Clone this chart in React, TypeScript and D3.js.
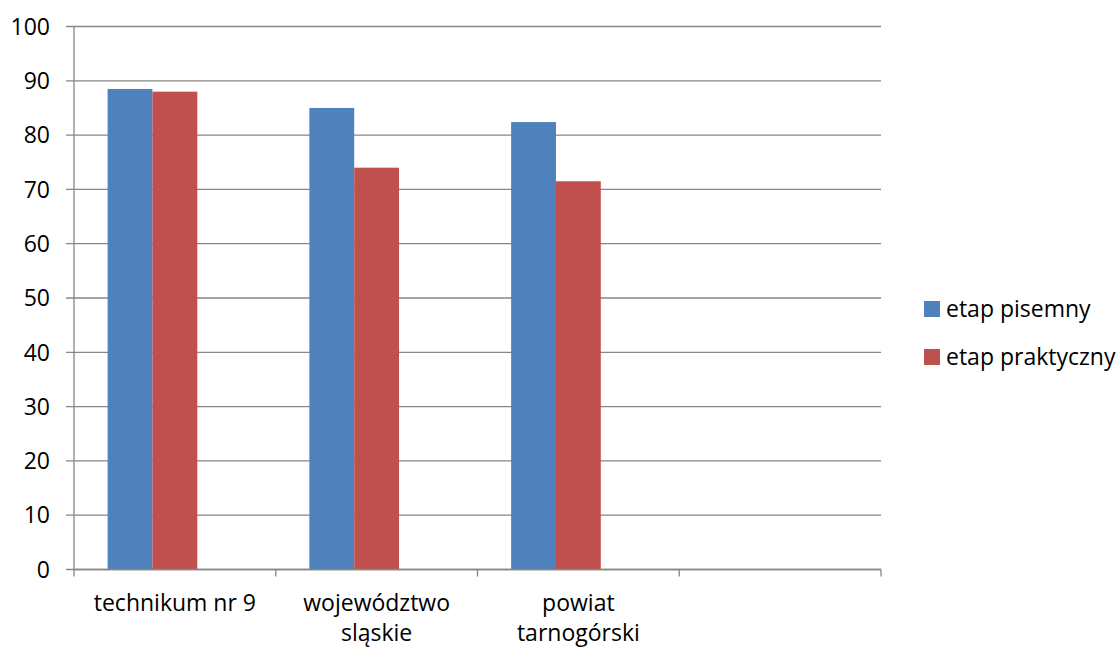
import React from "react";
import * as d3 from "d3";

const categories = ["technikum nr 9", "województwo sląskie", "powiat tarnogórski", ""];
const categoryLines = [["technikum nr 9"], ["województwo", "sląskie"], ["powiat", "tarnogórski"], []];
const seriesNames = ["etap pisemny", "etap praktyczny", ""];
const seriesColors = ["#4F81BD", "#C0504D", "none"];
const pisemny = [88.5, 85.0, 82.4, null];
const praktyczny = [88.0, 74.0, 71.5, null];
const yTicks = [0, 10, 20, 30, 40, 50, 60, 70, 80, 90, 100];

const W = 1120, H = 649;
const left = 74, right = 881, top = 26.5, bottom = 569.5;
const font = "'Open Sans', 'Liberation Sans', sans-serif";
const fs = 23;

export default function App() {
  const y = d3.scaleLinear().domain([0, 100]).range([bottom, top]);
  const x0 = d3.scaleBand<string>().domain(categories.map((c, i) => String(i))).range([left, right]).padding(0);
  const slot = x0.bandwidth();
  const gap = slot / 4.5 * 1.5;
  const x1 = d3.scaleBand<string>().domain(["0", "1", "2"]).range([gap / 2, slot - gap / 2]).padding(0);
  const data = [pisemny, praktyczny, []];
  const grid = "#868686";
  return (
    <div style={{ position: "absolute", left: 0, top: 0 }}>
      <svg width={W} height={H} style={{ display: "block", background: "#fff" }}>
        {yTicks.map((t) => (
          <g key={t}>
            <line x1={left - 8} x2={right} y1={y(t)} y2={y(t)} stroke={grid} strokeWidth={1.3} />
            <text x={50} y={y(t)} dy="0.36em" textAnchor="end" fontFamily={font} fontSize={fs} fill="#000">{t}</text>
          </g>
        ))}
        {data.map((vals, s) =>
          vals.map((v, i) =>
            v == null ? null : (
              <rect key={s + "-" + i}
                x={(x0(String(i)) as number) + (x1(String(s)) as number)}
                y={y(v as number)}
                width={x1.bandwidth()}
                height={bottom - y(v as number)}
                fill={seriesColors[s]} />
            )
          )
        )}
        <line x1={left} x2={left} y1={top} y2={bottom} stroke={grid} strokeWidth={1.3} />
        <line x1={left} x2={right} y1={bottom} y2={bottom} stroke={grid} strokeWidth={1.3} />
        {d3.range(categories.length + 1).map((i) => {
          const xx = left + i * slot;
          return <line key={i} x1={xx} x2={xx} y1={bottom} y2={bottom + 7} stroke={grid} strokeWidth={1.3} />;
        })}
        {categoryLines.map((lines, i) => (
          <text key={i} textAnchor="middle" fontFamily={font} fontSize={fs} fill="#000">
            {lines.map((l, j) => (
              <tspan key={j} x={(x0(String(i)) as number) + slot / 2} y={611 + j * 30}>{l}</tspan>
            ))}
          </text>
        ))}
        {seriesNames.slice(0, 2).map((n, s) => (
          <g key={n}>
            <rect x={924} y={301 + s * 48} width={16} height={16} fill={seriesColors[s]} />
            <text x={946} y={309 + s * 48} dy="0.36em" fontFamily={font} fontSize={fs} fill="#000">{n}</text>
          </g>
        ))}
      </svg>
    </div>
  );
}
